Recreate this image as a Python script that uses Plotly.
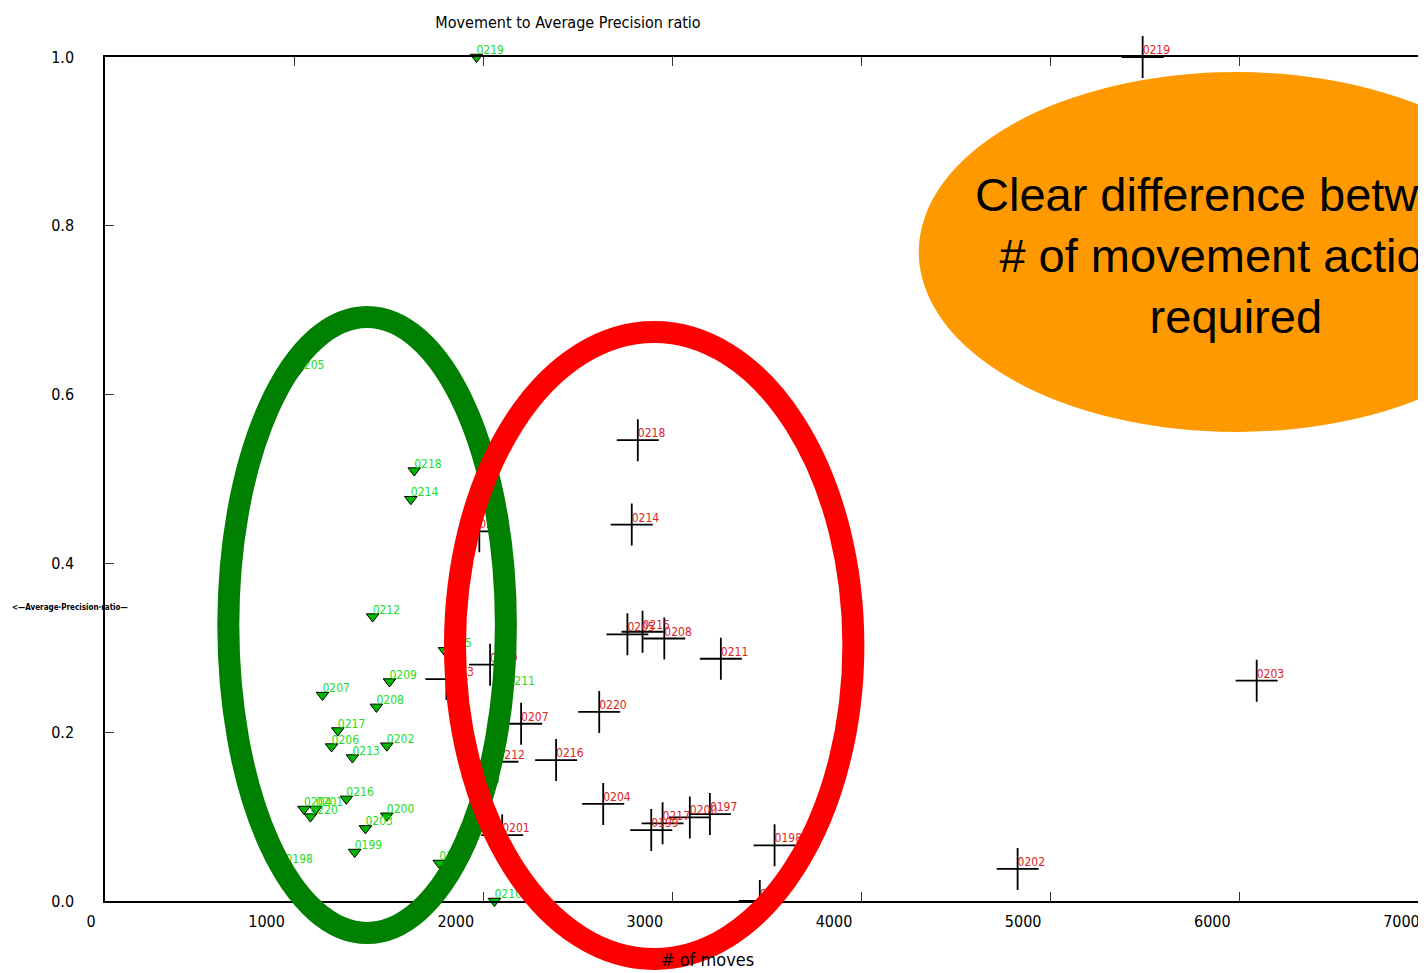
import plotly.graph_objects as go

# ---- data ----
ids = ["0197","0198","0199","0200","0201","0202","0203","0204","0205","0206","0207","0208",
       "0209","0210","0211","0212","0213","0214","0215","0216","0217","0218","0219","0220"]

# green series (triangles)
green_x = [1767, 954, 1320, 1490, 1114, 1490, 1377, 1052, 1015, 1198, 1150, 1435,
           1504, 2059, 2128, 1415, 1308, 1617, 1795, 1276, 1231, 1635, 1964, 1086]
green_y = [0.045, 0.041, 0.058, 0.101, 0.109, 0.184, 0.086, 0.109, 0.627, 0.183, 0.244, 0.230,
           0.260, 0.000, 0.252, 0.337, 0.170, 0.476, 0.297, 0.121, 0.202, 0.510, 1.000, 0.100]

# red series (crosses)
red_x = [3198, 3540, 2888, 3092, 2100, 4825, 6089, 2634, 2762, 1979, 2200, 2957,
         2036, 3462, 3256, 2075, 1805, 2785, 2842, 2385, 2948, 2817, 5486, 2613]
red_y = [0.103, 0.066, 0.084, 0.099, 0.078, 0.038, 0.261, 0.115, 0.316, 0.438, 0.210, 0.311,
         0.280, 0.000, 0.287, 0.165, 0.263, 0.446, 0.319, 0.167, 0.092, 0.546, 1.000, 0.224]

x_ticks = [0, 1000, 2000, 3000, 4000, 5000, 6000, 7000]
y_ticks = [0.0, 0.2, 0.4, 0.6, 0.8, 1.0]

NARROW = "Liberation Sans Narrow, Arial Narrow, DejaVu Sans Condensed, sans-serif"

fig = go.Figure()

fig.add_trace(go.Scatter(
    x=green_x, y=green_y, mode="markers", cliponaxis=False, showlegend=False,
    marker=dict(symbol="triangle-down", size=11, color="#00b800",
                line=dict(color="black", width=1)),
))
fig.add_trace(go.Scatter(
    x=green_x, y=green_y, mode="text", text=ids, textposition="top right",
    cliponaxis=False, showlegend=False,
    textfont=dict(family=NARROW, size=12, color="#22dd22"),
))
fig.add_trace(go.Scatter(
    x=red_x, y=red_y, mode="markers", cliponaxis=False, showlegend=False,
    marker=dict(symbol="cross-thin", size=30, color="black",
                line=dict(color="black", width=1.8)),
))
fig.add_trace(go.Scatter(
    x=red_x, y=red_y, mode="text", text=ids, textposition="top right",
    cliponaxis=False, showlegend=False,
    textfont=dict(family=NARROW, size=12, color="#dd2222"),
))

OFF = 8                      # page offset of the figure (body margin)
W, H = 1426, 973
L, T = 105 - OFF, 57 - OFF
B = H - (901 - OFF)
R = W - (1431 - OFF)
PW = W - L - R
PH = H - T - B

def px(xp):
    return (xp - OFF - L) / PW

def py(yp):
    return (H - B - (yp - OFF)) / PH

shapes = [
    dict(type="circle", xref="paper", yref="paper", layer="above",
         x0=px(228.5), x1=px(506.5), y0=py(933), y1=py(317),
         line=dict(color="#008000", width=22), fillcolor="rgba(0,0,0,0)"),
    dict(type="circle", xref="paper", yref="paper", layer="above",
         x0=px(455.5), x1=px(854.5), y0=py(959), y1=py(332),
         line=dict(color="#ff0000", width=22), fillcolor="rgba(0,0,0,0)"),
    dict(type="circle", xref="paper", yref="paper", layer="above",
         x0=px(920), x1=px(1556), y0=py(432), y1=py(72),
         line=dict(width=0), fillcolor="#ff9900"),
]

annotations = [
    dict(xref="paper", yref="paper", x=px(1238), y=py(256), xanchor="center", yanchor="middle",
         text="Clear difference between<br># of movement actions<br>required",
         showarrow=False, align="center",
         font=dict(family="Liberation Sans, Arial, sans-serif", size=47, color="black")),
    dict(xref="paper", yref="paper", x=px(708), y=py(960), xanchor="center", yanchor="middle",
         text="# of moves", showarrow=False,
         font=dict(family=NARROW, size=18, color="black")),
    dict(xref="paper", yref="paper", x=px(10), y=py(607), xanchor="left", yanchor="middle",
         text="<b>&lt;—Average·Precision·ratio—</b>", showarrow=False,
         font=dict(family=NARROW, size=8, color="black")),
]

fig.update_layout(
    width=W, height=H,
    margin=dict(l=L, r=R, t=T, b=B),
    plot_bgcolor="white", paper_bgcolor="white",
    title=dict(text="Movement to Average Precision ratio", x=(568 - OFF) / W, xanchor="center",
               y=1 - (22 - OFF) / H, yanchor="middle",
               font=dict(family=NARROW, size=16, color="black")),
    shapes=shapes, annotations=annotations,
    showlegend=False,
)

fig.update_xaxes(
    range=[0, 7000], tickvals=x_ticks, ticktext=[str(v) for v in x_ticks],
    showgrid=False, zeroline=False, showline=True, linecolor="black", linewidth=1.5,
    mirror="allticks", ticks="inside", ticklen=9, tickcolor="#333333",
    ticklabelposition="outside left", ticklabelshift=-8, ticklabelstandoff=5,
    tickfont=dict(family=NARROW, size=16, color="black"),
)
fig.update_yaxes(
    range=[0, 1], tickvals=y_ticks, ticktext=["%.1f" % v for v in y_ticks],
    showgrid=False, zeroline=False, showline=True, linecolor="black", linewidth=1.5,
    mirror="allticks", ticks="inside", ticklen=9, tickcolor="#333333",
    ticklabelstandoff=26,
    tickfont=dict(family=NARROW, size=16, color="black"),
)

fig.write_html("out.html")
